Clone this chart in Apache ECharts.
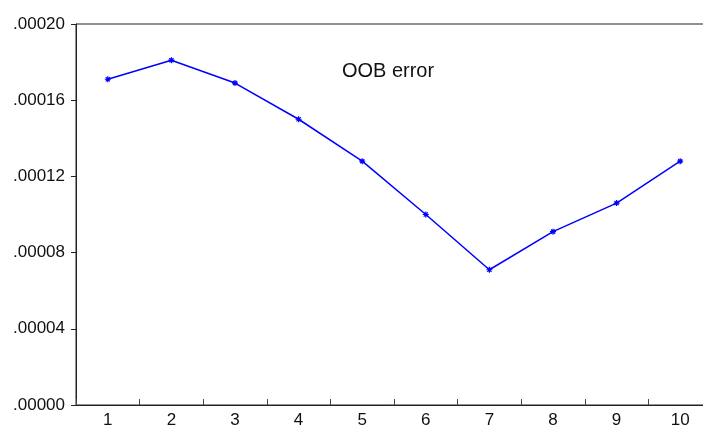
<!DOCTYPE html>
<html>
<head>
<meta charset="utf-8">
<script src="https://cdn.jsdelivr.net/npm/echarts@6/dist/echarts.min.js"></script>
<style>
    html, body { margin: 0; padding: 0; background: #fff; }
    #oob_chart { width: 703px; height: 428px; }
</style>
</head>
<body>
<div id="oob_chart"></div>
<script>
// categories and values
const categories = ['1', '2', '3', '4', '5', '6', '7', '8', '9', '10'];
const oobError = [0.000171, 0.000181, 0.000169, 0.000150, 0.000128, 0.000100, 0.000071, 0.000091, 0.000106, 0.000128];
const yTicks = [0, 0.00004, 0.00008, 0.00012, 0.00016, 0.00020];

const labelFont = 'Liberation Sans, Arial, sans-serif';

const option = {
    animation: false,
    backgroundColor: '#fff',
    grid: {
        left: 76,
        right: -9,
        top: 24,
        bottom: 23,
        outerBoundsMode: 'none',
        containLabel: false,
        show: true,
        borderColor: '#222',
        borderWidth: 1
    },
    graphic: [
        {
            type: 'text',
            x: 388,
            y: 71,
            style: {
                text: 'OOB error',
                font: '20px ' + labelFont,
                fill: '#111',
                align: 'center',
                verticalAlign: 'middle'
            }
        }
    ],
    xAxis: {
        type: 'category',
        data: categories,
        boundaryGap: true,
        axisLine: {lineStyle: {color: '#222', width: 1}},
        axisTick: {
            show: true,
            inside: true,
            length: 6,
            lineStyle: {color: '#444'}
        },
        axisLabel: {
            color: '#111',
            fontSize: 17,
            fontFamily: labelFont,
            margin: 7
        },
        splitLine: {show: false}
    },
    yAxis: {
        type: 'value',
        min: yTicks[0],
        max: yTicks[yTicks.length - 1],
        interval: yTicks[1] - yTicks[0],
        axisLine: {show: true, lineStyle: {color: '#222', width: 1}},
        axisTick: {
            show: true,
            length: 5,
            lineStyle: {color: '#222'}
        },
        axisLabel: {
            color: '#111',
            fontSize: 17,
            fontFamily: labelFont,
            margin: 11,
            formatter: function (v) {
                return v.toFixed(5).replace(/^0/, '');
            }
        },
        splitLine: {show: false}
    },
    series: [
        {
            name: 'OOB error',
            type: 'line',
            data: oobError,
            symbol: 'path://M0,5L10,5M5,0L5,10M1.5,1.5L8.5,8.5M8.5,1.5L1.5,8.5',
            symbolSize: 6,
            showAllSymbol: true,
            lineStyle: {color: '#0000ff', width: 1.5},
            itemStyle: {color: '#0000ff', borderColor: '#0000ff', borderWidth: 1.2}
        }
    ]
};

let oobChart = echarts.init(document.getElementById('oob_chart'));
oobChart.setOption(option);

window.addEventListener('resize', function () {
    oobChart.resize();
});
</script>
</body>
</html>
